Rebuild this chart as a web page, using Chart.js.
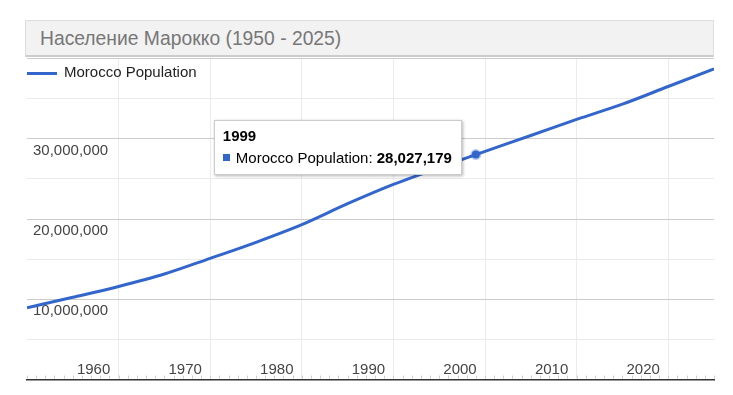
<!DOCTYPE html>
<html>
<head>
<meta charset="utf-8">
<script src="https://cdn.jsdelivr.net/npm/chart.js@4.4.1/dist/chart.umd.min.js"></script>
<style>
  body { margin: 0; background: #fff; font-family: Arial, "Liberation Sans", sans-serif; }
  #wrap { position: relative; width: 733px; height: 395px; }
  #title {
    position: absolute; left: 25px; top: 20px; width: 689px; height: 37px;
    box-sizing: border-box; padding-left: 14px; padding-top: 2px;
    background: #f2f2f2; border: 1px solid #ddd; border-bottom: 2px solid #ccc;
    color: #777; font-size: 19.3px; line-height: 32px;
  }
  #legend {
    position: absolute; left: 27px; top: 63px; height: 18px; line-height: 18px;
    font-size: 15px; color: #222;
  }
  #legend .ln { display: inline-block; width: 30px; height: 3px; background: #3366cc; vertical-align: middle; margin-right: 7px; }
  #tip {
    position: absolute; display: none; background: #fff; border: 1px solid #ccc;
    box-shadow: 1px 1px 3px rgba(0,0,0,0.3); padding: 6px 9px 7px 8px;
    font-size: 15px; color: #000; white-space: nowrap;
  }
  #tip .tt { font-weight: bold; line-height: 18px; margin-bottom: 4px; }
  #tip .tb { line-height: 18px; }
  #tip .sw { display: inline-block; width: 7px; height: 7px; background: #3366cc; margin-right: 6px; vertical-align: 2px; }
</style>
</head>
<body>
<div id="wrap">
  <canvas id="chart" width="733" height="395"></canvas>
  <div id="title">Население Марокко (1950 - 2025)</div>
  <div id="legend"><span class="ln"></span>Morocco Population</div>
  <div id="tip"></div>
</div>
<script>
// values
var years = [1950, 1955, 1960, 1965, 1970, 1975, 1980, 1985, 1990, 1995, 1999, 2005, 2010, 2015, 2020, 2025];
var population = [8950000, 10250000, 11600000, 13150000, 15100000, 17100000, 19300000, 21900000,
                  24300000, 26400000, 28027179, 30400000, 32400000, 34300000, 36500000, 38700000];
var decadeTicks = [1960, 1970, 1980, 1990, 2000, 2010, 2020];
var activeYear = 1999;

function externalTooltip(context) {
    var tip = context.tooltip;
    var el = document.getElementById('tip');
    if (tip.opacity === 0 || !tip.dataPoints || !tip.dataPoints.length) {
        el.style.display = 'none';
        return;
    }
    var dp = tip.dataPoints[0];
    el.innerHTML = '<div class="tt">' + dp.raw.x + '</div>' +
        '<div class="tb"><span class="sw"></span>' + dp.dataset.label + ': <b>' +
        dp.raw.y.toLocaleString('en-US') + '</b></div>';
    el.style.display = 'block';
    el.style.left = (tip.caretX - 14 - el.offsetWidth) + 'px';
    el.style.top = (tip.caretY - 35) + 'px';
}

// small year ticks sitting on the bottom axis line
var yearTicks = {
    id: 'yearTicks',
    afterDraw(chart) {
        var xs = chart.scales.x, ctx = chart.ctx, bottom = chart.chartArea.bottom;
        ctx.save();
        ctx.strokeStyle = '#ccc';
        ctx.lineWidth = 1;
        for (var y = 1950; y <= 2025; y++) {
            var px = Math.round(xs.getPixelForValue(y)) + 0.5;
            ctx.beginPath();
            ctx.moveTo(px, bottom - 1);
            ctx.lineTo(px, bottom - 4);
            ctx.stroke();
        }
        ctx.restore();
    }
};

var chart = new Chart(document.getElementById('chart'), {
    type: 'line',
    data: {
        datasets: [{
            label: 'Morocco Population',
            data: years.map(function (y, i) { return { x: y, y: population[i] }; }),
            borderColor: '#3366cc',
            backgroundColor: '#3366cc',
            borderWidth: 3,
            fill: false,
            cubicInterpolationMode: 'monotone',
            pointRadius: 0,
            pointHoverRadius: 4,
            pointHoverBackgroundColor: '#3366cc',
            pointHoverBorderColor: 'rgba(51,102,204,0.35)',
            pointHoverBorderWidth: 3
        }]
    },
    options: {
        responsive: false,
        animation: false,
        events: [],
        layout: { padding: { left: 27, right: 19, top: 58.4, bottom: 15.4 } },
        plugins: {
            legend: { display: false },
            title: { display: false },
            tooltip: { enabled: false, external: externalTooltip }
        },
        scales: {
            x: {
                type: 'linear',
                min: 1950,
                max: 2025,
                afterBuildTicks: function (s) { s.ticks = decadeTicks.map(function (v) { return { value: v }; }); },
                afterFit: function (s) { s.height = 0; },
                grid: { color: '#ebebeb', drawTicks: false },
                border: { display: true, color: '#333', width: 1.5 },
                ticks: {
                    mirror: true,   // labels sit inside the plot, above the axis line
                    padding: 1,
                    labelOffset: -25,
                    maxRotation: 0,
                    autoSkip: false,
                    color: '#444',
                    font: { family: 'Arial, "Liberation Sans"', size: 15 },
                    callback: function (v) { return String(v); }
                }
            },
            y: {
                min: 0,
                max: 40000000,
                afterFit: function (s) { s.width = 0; },
                grid: {
                    drawTicks: false,
                    color: function (c) { return c.tick.value % 10000000 === 0 ? '#ccc' : '#ebebeb'; }
                },
                border: { display: false },
                ticks: {
                    stepSize: 5000000,
                    mirror: true,
                    padding: 6,
                    labelOffset: 12,
                    color: '#444',
                    font: { family: 'Arial, "Liberation Sans"', size: 15 },
                    callback: function (v) {
                        if (v === 0 || v === 40000000 || v % 10000000 !== 0) return '';
                        return v.toLocaleString('en-US');
                    }
                }
            }
        }
    },
    plugins: [yearTicks]
});

var idx = years.indexOf(activeYear);
chart.setActiveElements([{ datasetIndex: 0, index: idx }]);
chart.tooltip.setActiveElements([{ datasetIndex: 0, index: idx }], { x: 0, y: 0 });
chart.update();
</script>
</body>
</html>
